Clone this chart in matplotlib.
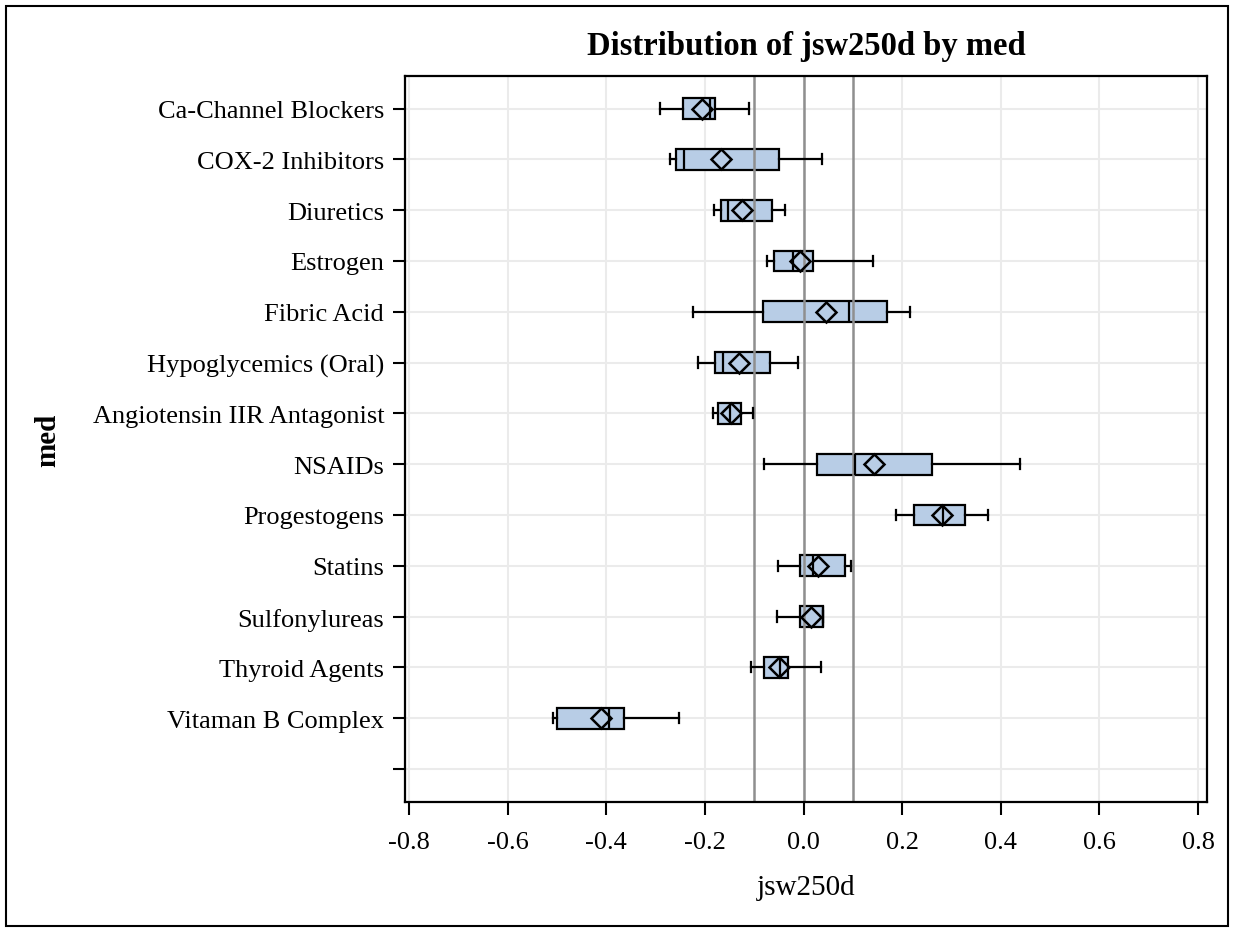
import matplotlib
matplotlib.use("Agg")
import matplotlib.pyplot as plt
from matplotlib.patches import Rectangle

meds = ["Ca-Channel Blockers", "COX-2 Inhibitors", "Diuretics", "Estrogen",
        "Fibric Acid", "Hypoglycemics (Oral)", "Angiotensin IIR Antagonist",
        "NSAIDs", "Progestogens", "Statins", "Sulfonylureas", "Thyroid Agents",
        "Vitaman B Complex", ""]

whislo = [-0.290, -0.270, -0.181, -0.075, -0.224, -0.2135, -0.1845, -0.081, 0.188, -0.052, -0.053, -0.107, -0.507]
q1     = [-0.244, -0.259, -0.168, -0.060, -0.082, -0.180, -0.173, 0.027, 0.224, -0.007, -0.007, -0.080, -0.499]
median = [-0.189, -0.242, -0.154, -0.022, 0.092, -0.163, -0.149, 0.105, 0.283, 0.020, 0.040, -0.048, -0.394]
q3     = [-0.180, -0.050, -0.064, 0.020, 0.170, -0.068, -0.126, 0.260, 0.328, 0.085, 0.040, -0.032, -0.364]
whishi = [-0.111, 0.038, -0.037, 0.140, 0.215, -0.011, -0.102, 0.438, 0.374, 0.097, 0.040, 0.036, -0.252]
means  = [-0.205, -0.168, -0.125, -0.007, 0.045, -0.130, -0.148, 0.143, 0.281, 0.030, 0.016, -0.049, -0.410]

ref_lines = [-0.1, 0.0, 0.1]
xticks = [-0.8, -0.6, -0.4, -0.2, 0.0, 0.2, 0.4, 0.6, 0.8]

plt.rcParams['font.family'] = ['Liberation Serif', 'DejaVu Serif']

fig = plt.figure(figsize=(12.33, 9.29), dpi=100)
ax = fig.add_axes([405/1233, 1 - 803/929, (1207 - 405)/1233, (803 - 76.5)/929])

stats = []
for i in range(len(whislo)):
    stats.append(dict(label=meds[i], whislo=whislo[i], q1=q1[i], med=median[i],
                      q3=q3[i], whishi=whishi[i], mean=means[i]))
positions = list(range(len(whislo)))

lw = 1.6
res = ax.bxp(stats, positions=positions, vert=False, widths=0.41,
             patch_artist=True, showmeans=True, showfliers=False,
             capwidths=0.2, zorder=3,
             boxprops=dict(facecolor='#b8cde6', edgecolor='black', linewidth=lw),
             whiskerprops=dict(color='black', linewidth=lw),
             capprops=dict(color='black', linewidth=lw),
             medianprops=dict(color='black', linewidth=lw),
             meanprops=dict(marker='D', markerfacecolor='none', markeredgecolor='black',
                            markersize=10, markeredgewidth=1.8))
for b in res['boxes']:
    b.set_zorder(2)

for r in ref_lines:
    ax.axvline(r, color='#8f8f8f', linewidth=1.8, zorder=2.5)

ax.set_xlim(-0.808, 0.818)
ax.set_ylim(len(meds) - 1 + 0.65, -0.65)
ax.set_yticks(range(len(meds)))
ax.set_yticklabels(meds)
ax.set_xticks(xticks)
ax.set_xticklabels([f"{t:.1f}" for t in xticks])

ax.grid(True, color='#ebebeb', linewidth=1.5, zorder=0)
ax.set_axisbelow(True)
for s in ax.spines.values():
    s.set_linewidth(1.6)
    s.set_color('black')
ax.tick_params(axis='both', direction='out', length=9, width=1.5, labelsize=19, color='black')
ax.tick_params(axis='x', pad=12)
ax.tick_params(axis='y', pad=6)

fig.text(806/1233, 1 - 46.7/929, "Distribution of jsw250d by med", ha='center', va='center',
         fontsize=23.5, fontweight='bold')
fig.text(806/1233, 1 - 888/929, "jsw250d", ha='center', va='center', fontsize=21)
fig.text(48/1233, 1 - 440/929, "med", ha='center', va='center', fontsize=21,
         fontweight='bold', rotation=90)

fig.patches.append(Rectangle((6/1233, 2/929), 1222/1233, 920/929, transform=fig.transFigure,
                             fill=False, edgecolor='black', linewidth=1.5))

fig.savefig("out.png", dpi=100)
